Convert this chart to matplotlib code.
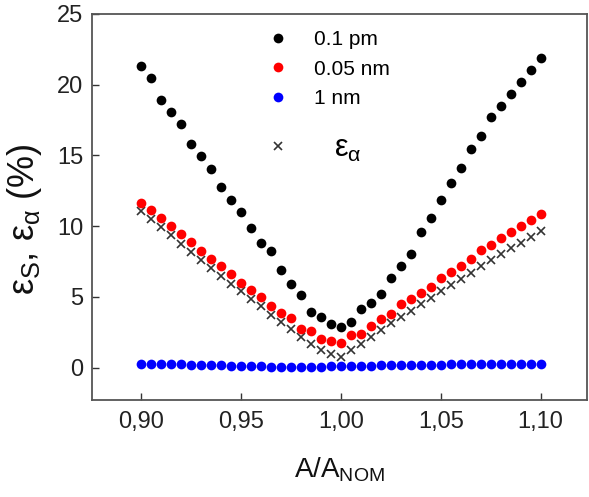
import numpy as np
import matplotlib
matplotlib.use("Agg")
import matplotlib.pyplot as plt
from matplotlib.lines import Line2D

plt.rcParams['font.family'] = ['Liberation Sans', 'DejaVu Sans']
plt.rcParams['mathtext.fontset'] = 'custom'
plt.rcParams['mathtext.rm'] = 'Liberation Sans'
plt.rcParams['mathtext.it'] = 'Liberation Sans'
plt.rcParams['mathtext.bf'] = 'Liberation Sans:bold'

# data
a_ratio = [0.900, 0.905, 0.910, 0.915, 0.920, 0.925, 0.930, 0.935, 0.940, 0.945,
           0.950, 0.955, 0.960, 0.965, 0.970, 0.975, 0.980, 0.985, 0.990, 0.995,
           1.000, 1.005, 1.010, 1.015, 1.020, 1.025, 1.030, 1.035, 1.040, 1.045,
           1.050, 1.055, 1.060, 1.065, 1.070, 1.075, 1.080, 1.085, 1.090, 1.095,
           1.100]
eps_01pm = [21.34, 20.47, 18.93, 18.04, 17.21, 15.79, 14.97, 14.02, 12.73, 11.86,
            11.00, 9.89, 8.83, 8.24, 6.89, 5.93, 5.10, 3.92, 3.59, 3.05,
            2.88, 3.21, 4.16, 4.53, 5.17, 6.30, 7.17, 8.05, 9.61, 10.55,
            11.83, 13.08, 14.09, 15.44, 16.38, 17.68, 18.46, 19.33, 20.16, 21.06,
            21.88]
eps_005nm = [11.66, 11.12, 10.55, 10.01, 9.42, 8.87, 8.24, 7.65, 7.17, 6.59,
             6.00, 5.45, 5.00, 4.34, 3.87, 3.52, 2.73, 2.57, 2.03, 1.91,
             1.75, 2.27, 2.39, 2.92, 3.40, 3.82, 4.46, 4.87, 5.24, 5.72,
             6.35, 6.78, 7.17, 7.65, 8.29, 8.66, 9.14, 9.58, 10.01, 10.43,
             10.84]
eps_1nm = [0.28, 0.28, 0.27, 0.25, 0.23, 0.21, 0.19, 0.17, 0.15, 0.13,
           0.11, 0.09, 0.08, 0.07, 0.06, 0.05, 0.04, 0.04, 0.05, 0.10,
           0.12, 0.12, 0.13, 0.14, 0.15, 0.16, 0.17, 0.18, 0.19, 0.20,
           0.21, 0.22, 0.22, 0.23, 0.24, 0.24, 0.25, 0.25, 0.26, 0.26,
           0.27]
eps_alpha = [11.07, 10.53, 9.94, 9.35, 8.76, 8.17, 7.58, 7.01, 6.47, 5.93,
             5.40, 4.87, 4.34, 3.75, 3.21, 2.69, 2.17, 1.70, 1.23, 0.99,
             0.76, 1.23, 1.70, 2.17, 2.62, 3.12, 3.59, 3.99, 4.51, 4.94,
             5.40, 5.81, 6.23, 6.71, 7.17, 7.58, 8.00, 8.43, 8.78, 9.23,
             9.65]
xticks = [0.90, 0.95, 1.00, 1.05, 1.10]
xtick_labels = ['0,90', '0,95', '1,00', '1,05', '1,10']
yticks = [0, 5, 10, 15, 20, 25]

fig = plt.figure(figsize=(5.89, 4.97), dpi=100)
ax = fig.add_axes([0.156, 0.195, 0.840, 0.777])

ms = 7
ax.plot(a_ratio, eps_alpha, 'x', color='#333333', ms=5.5, mew=1.2, zorder=2)
ax.plot(a_ratio, eps_01pm, 'o', color='black', ms=ms, mec='none', zorder=3)
ax.plot(a_ratio, eps_005nm, 'o', color='red', ms=ms, mec='none', zorder=3)
ax.plot(a_ratio, eps_1nm, 'o', color='blue', ms=ms, mec='none', zorder=3)

ax.set_xlim(0.8755, 1.123)
ax.set_ylim(-2.3, 25)
ax.set_xticks(xticks)
ax.set_xticklabels(xtick_labels)
ax.set_yticks(yticks)
ax.tick_params(direction='in', length=5, width=1, labelsize=17, colors='#333333',
               labelcolor='#222222', pad=8)
ax.tick_params(axis='y', pad=6)
for s in ax.spines.values():
    s.set_color('#555555')
    s.set_linewidth(1.3)

ax.set_xlabel(r'A/A$_{\mathrm{NOM}}$', fontsize=20, color='#111111', labelpad=16)
ax.set_ylabel(r'$\varepsilon_{\mathrm{S}}$, $\varepsilon_{\alpha}$ (%)', fontsize=26,
              color='#111111')
ax.yaxis.set_label_coords(-0.097, 0.469)

handles = [Line2D([], [], ls='none', marker='o', color='black', ms=ms, mec='none'),
           Line2D([], [], ls='none', marker='o', color='red', ms=ms, mec='none'),
           Line2D([], [], ls='none', marker='o', color='blue', ms=ms, mec='none')]
leg1 = ax.legend(handles, ['0.1 pm', '0.05 nm', '1 nm'], loc='upper left',
                 bbox_to_anchor=(0.317, 1.006), frameon=False, fontsize=15,
                 handlelength=1.0, handletextpad=1.25, labelspacing=0.5)
ax.add_artist(leg1)
h4 = [Line2D([], [], ls='none', marker='x', color='#333333', ms=5.5, mew=1.2)]
ax.legend(h4, [r'$\varepsilon_{\alpha}$'], loc='upper left',
          bbox_to_anchor=(0.289, 0.76), frameon=False, fontsize=22,
          handlelength=1.0, handletextpad=1.33)

fig.savefig('out.png', dpi=100)
